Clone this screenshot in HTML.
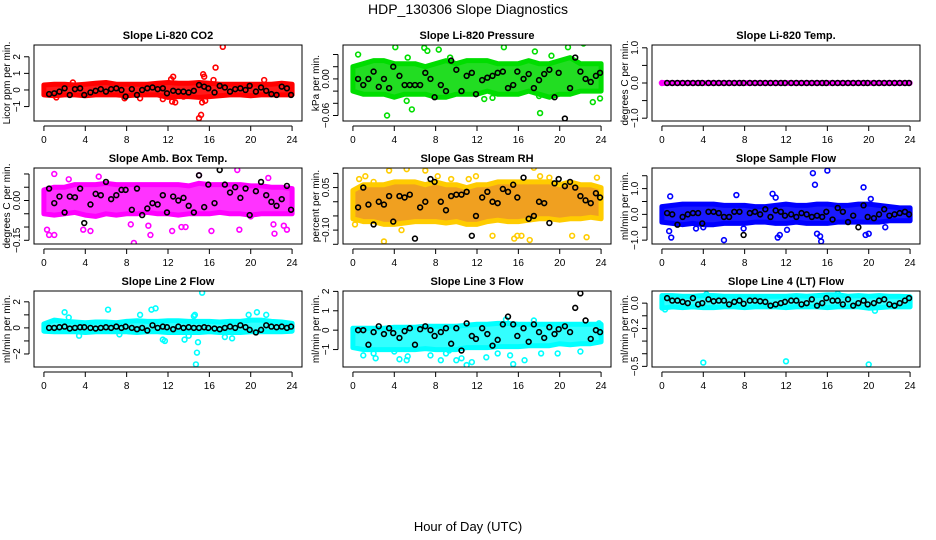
<!DOCTYPE html>
<html><head><meta charset="utf-8"><style>
body{margin:0;background:#fff}
svg{display:block;font-family:"Liberation Sans",sans-serif}
</style></head><body>
<svg id="c" width="936" height="540" viewBox="0 0 936 540">
<text x="468" y="14" font-size="14" text-anchor="middle">HDP_130306  Slope Diagnostics</text>
<text x="468" y="531" font-size="13" text-anchor="middle">Hour of Day (UTC)</text>
</svg>
<script>
const bH=[0.5,1,1.5,2,2.5,3,3.5,3.9,4.5,5,5.5,6,6.5,7,7.5,7.9,8.5,9,9.5,10,10.5,11,11.5,11.9,12.5,13,13.5,14,14.5,15,15.5,15.9,16.5,17,17.5,18,18.5,19,19.5,19.9,20.5,21,21.5,22,22.5,23,23.5,23.9];
const bandH=[0,1,2,3,4,5,6,7,8,9,10,11,12,13,14,15,16,17,18,19,20,21,22,23,24];
const xTicks=[0,4,8,12,16,20,24];

const p1Black=[-0.25,-0.2,-0.1,0.1,-0.3,0.05,0.1,-0.3,-0.15,-0.05,0.05,-0.1,0.05,0.1,0.0,-0.4,0.05,-0.3,0.0,0.1,0.15,0.05,0.1,-0.2,-0.05,-0.1,-0.1,-0.15,-0.05,0.3,0.2,0.1,-0.15,0.25,0.15,-0.1,0.05,0.1,0.0,0.25,-0.1,0.15,-0.05,-0.25,-0.3,0.2,0.1,-0.3];
const p1Low=[-0.3,-0.35,-0.3,-0.3,-0.35,-0.3,-0.3,-0.3,-0.35,-0.3,-0.3,-0.3,-0.45,-0.4,-0.4,-0.45,-0.4,-0.35,-0.3,-0.3,-0.35,-0.3,-0.3,-0.3,-0.3];
const p1High=[0.3,0.35,0.35,0.3,0.35,0.4,0.45,0.35,0.35,0.35,0.35,0.4,0.45,0.4,0.4,0.45,0.4,0.35,0.35,0.35,0.35,0.35,0.35,0.4,0.35];
const p1OutH=[15.0,15.2,15.3,15.4,15.5,16.6,16.4,17.3,12.5,12.4,12.3,21.3,9.3,11.5,1.2,7.8,13.5,2.8,15.6,12.7];
const p1OutV=[-1.7,-1.5,-0.75,0.95,0.8,1.35,0.6,2.6,0.8,-0.7,0.65,0.6,-0.5,-0.55,-0.45,-0.5,-0.4,0.45,-0.65,-0.75];

const p2Black=[0.0,-0.01,0.0,0.012,-0.013,0.0,-0.015,0.02,0.005,-0.01,-0.01,-0.01,-0.01,0.01,0.0,-0.03,-0.01,-0.02,0.03,0.015,-0.02,0.005,0.01,-0.025,-0.002,0.002,0.005,0.01,0.012,-0.015,-0.01,0.012,0.0,0.008,-0.015,-0.002,0.008,0.015,-0.03,0.01,-0.065,-0.015,0.035,0.012,0.0,-0.005,0.005,0.01];
const p2Low=[-0.02,-0.025,-0.025,-0.025,-0.03,-0.025,-0.025,-0.025,-0.03,-0.03,-0.025,-0.025,-0.025,-0.02,-0.025,-0.025,-0.025,-0.02,-0.025,-0.03,-0.025,-0.025,-0.02,-0.02,-0.02];
const p2High=[0.02,0.025,0.03,0.03,0.025,0.025,0.025,0.02,0.025,0.03,0.025,0.03,0.03,0.03,0.025,0.025,0.025,0.03,0.025,0.025,0.03,0.035,0.025,0.025,0.025];
const p2OutH=[0.5,3.3,4.1,5.2,5.7,6.9,7.2,8.3,9.4,12.7,13.5,14.6,17.6,18.1,19.2,20.3,20.5,20.8,22.3,23.2,23.9,5.3,18.0];
const p2OutV=[0.04,-0.06,0.052,-0.036,-0.05,0.051,0.046,0.048,0.035,-0.033,-0.031,0.052,0.045,-0.056,0.038,0.068,0.06,0.052,0.058,-0.038,-0.032,0.035,-0.028];

const p3Black=[0,0,0,0,0,0,0,0,0,0,0,0,0,0,0,0,0,0,0,0,0,0,0,0,0,0,0,0,0,0,0,0,0,0,0,0,0,0,0,0,0,0,0,0,0,0,0,0];
const p3Low=[-0.01,-0.01,-0.01,-0.01,-0.01,-0.01,-0.01,-0.01,-0.01,-0.01,-0.01,-0.01,-0.01,-0.01,-0.01,-0.01,-0.01,-0.01,-0.01,-0.01,-0.01,-0.01,-0.01,-0.01,-0.01];
const p3High=[0.01,0.01,0.01,0.01,0.01,0.01,0.01,0.01,0.01,0.01,0.01,0.01,0.01,0.01,0.01,0.01,0.01,0.01,0.01,0.01,0.01,0.01,0.01,0.01,0.01];
const p3OutH=[0];
const p3OutV=[0];

const p4Black=[0.045,-0.01,0.015,-0.045,0.015,0.012,0.045,-0.085,-0.015,0.025,0.02,0.07,0.005,0.02,0.04,0.04,-0.035,0.045,-0.055,-0.03,-0.01,-0.015,0.02,-0.045,0.015,0.0,0.01,-0.02,-0.045,0.095,-0.025,0.06,-0.01,0.115,0.06,0.03,0.05,0.01,0.045,-0.055,0.035,0.07,0.02,-0.005,-0.02,0.005,0.055,-0.035];
const p4Low=[-0.05,-0.055,-0.05,-0.045,-0.055,-0.06,-0.05,-0.055,-0.05,-0.05,-0.045,-0.05,-0.05,-0.055,-0.05,-0.05,-0.05,-0.045,-0.05,-0.05,-0.055,-0.05,-0.05,-0.05,-0.05];
const p4High=[0.04,0.05,0.05,0.06,0.06,0.06,0.065,0.06,0.06,0.06,0.06,0.06,0.06,0.06,0.055,0.065,0.06,0.06,0.06,0.06,0.055,0.055,0.05,0.05,0.045];
const p4OutH=[1.0,0.3,0.5,1.0,2.4,3.8,4.5,5.3,8.7,8.4,10.3,10.1,12.4,13.3,13.7,16.2,15.0,18.7,18.9,20.0,21.7,22.2,22.3,23.5,23.2];
const p4OutV=[0.1,-0.11,-0.13,-0.13,0.08,-0.11,-0.115,0.09,-0.16,-0.09,-0.13,-0.095,-0.115,-0.1,-0.1,-0.115,0.095,0.115,-0.11,-0.06,0.085,-0.09,-0.125,-0.11,-0.095];

const p5Black=[-0.02,0.05,-0.01,-0.08,0.0,-0.01,0.02,-0.07,0.02,0.015,0.025,-0.13,-0.02,0.0,0.08,0.07,0.0,-0.03,0.02,0.025,0.025,0.035,-0.12,-0.05,0.015,0.035,0.0,-0.005,0.045,0.035,0.06,0.015,0.085,-0.06,-0.05,0.0,-0.005,-0.075,0.065,0.08,0.055,0.07,0.05,0.02,0.005,-0.005,0.03,0.015];
const p5Low=[-0.06,-0.07,-0.07,-0.08,-0.08,-0.075,-0.07,-0.07,-0.07,-0.075,-0.07,-0.08,-0.08,-0.07,-0.065,-0.07,-0.07,-0.065,-0.06,-0.06,-0.065,-0.06,-0.06,-0.055,-0.06];
const p5High=[0.04,0.06,0.06,0.06,0.07,0.07,0.07,0.06,0.07,0.06,0.06,0.05,0.06,0.06,0.07,0.07,0.07,0.07,0.07,0.07,0.06,0.07,0.06,0.06,0.05];
const p5OutH=[0.6,1.2,2.0,3.0,3.5,5.2,4.7,7.0,8.2,9.5,11.2,11.9,13.5,15.6,15.9,16.3,17.1,17.5,18.1,19.0,21.2,22.6,23.6,0.2];
const p5OutV=[0.08,0.09,0.07,-0.14,0.11,0.115,-0.1,0.11,0.09,0.08,0.08,0.09,-0.12,-0.13,-0.12,-0.12,-0.135,0.12,0.09,0.085,-0.12,-0.125,0.085,-0.08];

const p6Black=[0.05,0.0,-0.4,-0.1,0.0,0.05,0.05,-0.35,0.1,0.1,0.05,-0.1,-0.1,0.1,0.1,-0.8,0.05,0.1,0.0,0.2,-0.1,0.15,0.1,-0.05,0.0,-0.1,0.05,0.0,-0.1,-0.05,-0.1,0.1,-0.2,0.25,0.1,-0.3,-0.05,-0.5,0.35,-0.1,-0.15,0.0,0.2,-0.05,0.0,0.05,0.1,0.0];
const p6Low=[-0.3,-0.35,-0.4,-0.35,-0.4,-0.4,-0.35,-0.35,-0.35,-0.3,-0.3,-0.35,-0.35,-0.3,-0.35,-0.35,-0.35,-0.3,-0.3,-0.3,-0.3,-0.3,-0.25,-0.25,-0.25];
const p6High=[0.3,0.35,0.4,0.4,0.4,0.4,0.35,0.35,0.35,0.3,0.3,0.35,0.4,0.35,0.35,0.4,0.4,0.35,0.35,0.4,0.4,0.35,0.3,0.25,0.25];
const p6OutH=[0.8,0.9,0.7,6.0,7.2,10.7,11.0,11.2,11.4,12.1,14.6,14.8,15.0,15.4,15.3,16.0,19.5,19.7,20.0,20.2,21.6,3.3,4.0,7.9];
const p6OutV=[0.7,-0.9,-0.65,-1.0,0.75,0.8,0.65,-0.9,-0.8,-0.6,1.6,1.15,-0.75,-1.05,-0.85,1.7,1.05,-0.8,-0.75,0.6,-0.5,-0.55,-0.5,-0.55];

const p7Black=[0.0,0.0,0.05,0.1,-0.05,0.0,0.05,0.05,0.0,-0.05,0.0,0.05,0.0,0.1,0.0,0.1,0.0,-0.1,0.0,-0.2,0.2,0.0,0.1,0.05,-0.1,0.1,0.0,0.05,0.0,0.0,0.05,0.0,-0.05,-0.1,0.0,0.1,0.0,0.2,0.05,-0.15,-0.35,-0.15,0.2,0.1,0.05,0.1,0.0,0.1];
const p7Low=[-0.25,-0.3,-0.3,-0.3,-0.35,-0.3,-0.3,-0.3,-0.3,-0.35,-0.3,-0.3,-0.35,-0.35,-0.35,-0.35,-0.3,-0.35,-0.35,-0.35,-0.3,-0.3,-0.3,-0.3,-0.25];
const p7High=[0.3,0.6,0.5,0.45,0.4,0.45,0.45,0.4,0.5,0.55,0.5,0.5,0.55,0.55,0.5,0.5,0.5,0.45,0.5,0.5,0.6,0.6,0.5,0.45,0.35];
const p7OutH=[2.0,2.4,3.4,6.2,7.3,9.3,10.4,10.8,11.5,11.7,13.6,14.0,14.5,14.6,14.7,14.8,14.9,15.3,17.5,18.2,19.8,20.6,21.5];
const p7OutV=[1.2,0.8,-0.6,1.4,-0.5,1.0,1.4,1.5,-0.9,-1.0,-0.9,-0.6,0.9,1.0,-2.8,-1.9,-1.1,2.7,-0.7,-0.8,1.0,1.2,1.0];

const p8Black=[0.0,0.0,-0.75,-0.1,0.2,-0.2,0.1,-0.15,-0.4,-0.05,0.1,-0.75,0.05,0.2,0.0,-0.3,-0.1,0.1,-0.7,0.1,-1.05,0.35,-0.3,-0.45,0.1,-0.2,-0.8,-0.5,0.3,0.7,0.3,-0.3,0.1,-0.6,0.3,-0.1,-0.4,0.15,-0.2,0.05,0.2,-0.1,1.15,1.9,0.5,-0.45,0.0,-0.1];
const p8Low=[-0.9,-1.0,-1.0,-1.0,-1.0,-1.0,-1.0,-0.95,-1.0,-1.0,-1.0,-0.9,-0.9,-0.9,-0.85,-0.85,-0.85,-0.8,-0.8,-0.8,-0.7,-0.75,-0.7,-0.7,-0.6];
const p8High=[0.1,0.1,0.1,0.1,0.15,0.15,0.15,0.2,0.2,0.2,0.2,0.25,0.3,0.3,0.35,0.35,0.3,0.3,0.3,0.3,0.3,0.3,0.3,0.3,0.3];
const p8OutH=[1.0,2.0,2.2,4.0,4.5,5.2,5.3,7.5,8.5,9.0,9.3,10.0,10.5,11.0,11.5,12.9,14.0,14.8,15.2,15.5,16.6,17.5,18.2,19.8,22.0,23.8];
const p8OutV=[-1.3,-1.2,-1.45,-1.1,-1.5,-1.55,-1.35,-1.3,-1.55,-1.2,-1.05,-1.55,-1.45,-1.8,-1.65,-1.4,-1.2,0.55,-1.3,-1.75,-1.55,0.5,-1.2,-1.2,-1.1,0.35];

const p9Black=[0.04,0.02,0.02,0.01,0.0,0.04,-0.01,0.0,0.03,0.015,0.02,0.02,-0.01,0.01,0.02,-0.005,0.02,0.02,0.015,0.01,-0.02,-0.01,0.0,0.01,0.02,0.02,-0.01,0.0,0.03,-0.02,0.0,0.04,0.02,0.02,-0.01,0.03,-0.02,0.0,0.02,-0.01,0.0,0.02,0.03,-0.01,-0.02,0.0,0.02,0.04];
const p9Low=[-0.04,-0.03,-0.035,-0.03,-0.035,-0.035,-0.03,-0.03,-0.035,-0.03,-0.03,-0.03,-0.035,-0.03,-0.03,-0.03,-0.035,-0.03,-0.03,-0.03,-0.04,-0.035,-0.03,-0.03,-0.03];
const p9High=[0.06,0.06,0.055,0.055,0.06,0.06,0.055,0.055,0.055,0.055,0.055,0.055,0.055,0.06,0.055,0.06,0.065,0.065,0.055,0.06,0.055,0.06,0.055,0.055,0.05];
const p9OutH=[4.0,12.0,20.0,0.3,4.3,17.0,20.6];
const p9OutV=[-0.47,-0.46,-0.485,-0.05,0.07,0.075,-0.06];

const svg=document.getElementById('c');
const NS='http://www.w3.org/2000/svg';
function mk(tag,attrs,parent){const e=document.createElementNS(NS,tag);for(const k in attrs)e.setAttribute(k,attrs[k]);(parent||svg).appendChild(e);return e;}

const panels=[
 {id:'co2',title:'Slope Li-820 CO2',ylab:'Licor ppm per min.',col:0,row:0,ymin:-1.87,ymax:2.71,ticks:[-1,0,1,2],labs:['\u22121','0','1','2'],color:'#ff0000',band:'#ff1a1a',black:p1Black,low:p1Low,high:p1High,oh:p1OutH,ov:p1OutV},
 {id:'pressure',title:'Slope Li-820 Pressure',ylab:'kPa per min.',col:1,row:0,ymin:-0.069,ymax:0.0556,ticks:[-0.06,-0.04,-0.02,0,0.02,0.04],labs:['\u22120.06','','','0.00','',''],color:'#00dd00',band:'#22dd22',black:p2Black,low:p2Low,high:p2High,oh:p2OutH,ov:p2OutV},
 {id:'temp',title:'Slope Li-820 Temp.',ylab:'degrees C per min.',col:2,row:0,ymin:-1.08,ymax:1.08,ticks:[-1,-0.5,0,0.5,1],labs:['\u22121.0','','0.0','','1.0'],color:'#ff00ff',band:'#ff00ff',black:p3Black,low:p3Low,high:p3High,oh:p3OutH,ov:p3OutV},
 {id:'amb-box-temp',title:'Slope Amb. Box Temp.',ylab:'degrees C per min.',col:0,row:1,ymin:-0.164,ymax:0.1225,ticks:[-0.15,-0.1,-0.05,0,0.05,0.1],labs:['\u22120.15','','','0.00','',''],color:'#ff00ff',band:'#ff33ff',black:p4Black,low:p4Low,high:p4High,oh:p4OutH,ov:p4OutV},
 {id:'gas-rh',title:'Slope Gas Stream RH',ylab:'percent per min.',col:1,row:1,ymin:-0.149,ymax:0.119,ticks:[-0.15,-0.1,-0.05,0,0.05,0.1],labs:['','\u22120.10','','','0.05',''],color:'#ffcc00',band:'#f0a020',black:p5Black,low:p5Low,high:p5High,oh:p5OutH,ov:p5OutV},
 {id:'sample-flow',title:'Slope Sample Flow',ylab:'ml/min per min.',col:2,row:1,ymin:-1.15,ymax:1.8,ticks:[-1,-0.5,0,0.5,1,1.5],labs:['\u22121.0','','0.0','','1.0',''],color:'#0000ff',band:'#1a1aff',black:p6Black,low:p6Low,high:p6High,oh:p6OutH,ov:p6OutV},
 {id:'line2-flow',title:'Slope Line 2 Flow',ylab:'ml/min per min.',col:0,row:2,ymin:-3.0,ymax:2.83,ticks:[-2,-1,0,1,2],labs:['\u22122','','0','','2'],color:'#00ffff',band:'#33ffff',black:p7Black,low:p7Low,high:p7High,oh:p7OutH,ov:p7OutV},
 {id:'line3-flow',title:'Slope Line 3 Flow',ylab:'ml/min per min.',col:1,row:2,ymin:-1.9,ymax:2.02,ticks:[-1,0,1,2],labs:['\u22121','0','1','2'],color:'#00ffff',band:'#33ffff',black:p8Black,low:p8Low,high:p8High,oh:p8OutH,ov:p8OutV},
 {id:'line4-flow',title:'Slope Line 4 (LT) Flow',ylab:'ml/min per min.',col:2,row:2,ymin:-0.505,ymax:0.096,ticks:[-0.5,-0.4,-0.3,-0.2,-0.1,0],labs:['\u22120.5','','','\u22120.2','','0.0'],color:'#00ffff',band:'#33ffff',black:p9Black,low:p9Low,high:p9High,oh:p9OutH,ov:p9OutV}
];
const colX=[34,343,652], rowY=[45,168,291], W=268, H=76;

panels.forEach(p=>{
  const L=colX[p.col], T=rowY[p.row], B=T+H;
  const xs=h=>L+(h+0.96)/25.92*W;
  const ys=v=>B-(v-p.ymin)/(p.ymax-p.ymin)*H;
  const g=mk('g',{});
  
  
  const clipId='clip-'+p.id;
  const cp=mk('clipPath',{id:clipId},g);
  mk('rect',{x:L,y:T,width:W,height:H},cp);
  const plot=mk('g',{'clip-path':'url(#'+clipId+')'},g);
  // band
  let d='';
  bandH.forEach((h,i)=>{d+=(i?'L':'M')+xs(h).toFixed(1)+' '+ys(p.high[i]).toFixed(1);});
  for(let i=bandH.length-1;i>=0;i--){d+='L'+xs(bandH[i]).toFixed(1)+' '+ys(p.low[i]).toFixed(1);}
  const band=mk('path',{d:d+'Z',fill:p.band,stroke:p.color,'stroke-width':5,'stroke-linejoin':'round'},plot);
  
  
  p.oh.forEach((h,i)=>{
    const c=mk('circle',{cx:xs(h),cy:ys(p.ov[i]),r:2.4,fill:'none',stroke:p.color,'stroke-width':1.6},plot);
    
    
  });
  bH.forEach((h,i)=>{
    const c=mk('circle',{cx:xs(h),cy:ys(p.black[i]),r:2.4,fill:'none',stroke:'#000','stroke-width':1.6},plot);
    
    
  });
  const box=mk('rect',{x:L,y:T,width:W,height:H,fill:'none',stroke:'#000','stroke-width':1},g);
  
  
  const t=mk('text',{x:L+W/2,y:T-6,'font-size':11,'font-weight':'bold','text-anchor':'middle'},g);
  t.textContent=p.title;
  
  
  // x axis
  mk('line',{x1:xs(0),x2:xs(24),y1:B+5,y2:B+5,stroke:'#000'},g);
  xTicks.forEach(v=>{
    mk('line',{x1:xs(v),x2:xs(v),y1:B+5,y2:B+10,stroke:'#000'},g);
    const tx=mk('text',{x:xs(v),y:B+22,'font-size':10,'text-anchor':'middle'},g);
    tx.textContent=v;
    
    
  });
  // y axis
  const ax=L-5;
  mk('line',{x1:ax,x2:ax,y1:ys(p.ticks[0]),y2:ys(p.ticks[p.ticks.length-1]),stroke:'#000'},g);
  p.ticks.forEach((v,i)=>{
    mk('line',{x1:ax-5,x2:ax,y1:ys(v),y2:ys(v),stroke:'#000'},g);
    if(p.labs[i]){
      const yy=ys(v);
      const ty=mk('text',{x:0,y:0,'font-size':10,'text-anchor':'middle',transform:'translate('+(ax-9)+','+yy+') rotate(-90)'},g);
      ty.textContent=p.labs[i];
      
      
    }
  });
  const yl=mk('text',{x:0,y:0,'font-size':10,'text-anchor':'middle',transform:'translate('+(L-24)+','+(T+H/2)+') rotate(-90)'},g);
  yl.textContent=p.ylab;
  
  
});
</script>
</body></html>
